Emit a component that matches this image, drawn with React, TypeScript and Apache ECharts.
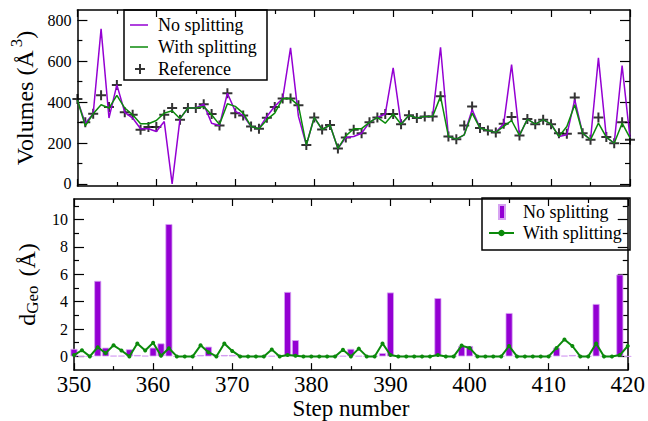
import React, { useEffect, useRef } from "react";
import * as echarts from "echarts";

const FONT = "Liberation Serif";

const steps = [
  350, 351, 352, 353, 354, 355, 356, 357, 358, 359,
  360, 361, 362, 363, 364, 365, 366, 367, 368, 369,
  370, 371, 372, 373, 374, 375, 376, 377, 378, 379,
  380, 381, 382, 383, 384, 385, 386, 387, 388, 389,
  390, 391, 392, 393, 394, 395, 396, 397, 398, 399,
  400, 401, 402, 403, 404, 405, 406, 407, 408, 409,
  410, 411, 412, 413, 414, 415, 416, 417, 418, 419,
  420,
];

// Volumes (Å^3)
const volNoSplit = [
  410, 297, 343, 758, 322, 484, 350, 322, 270, 270,
  256, 305, 0, 319, 371, 371, 390, 297, 286, 443,
  355, 335, 281, 270, 330, 380, 417, 665, 330, 190,
  325, 266, 288, 173, 227, 232, 248, 301, 325, 342,
  567, 292, 336, 322, 330, 330, 668, 232, 219, 240,
  363, 273, 261, 252, 294, 583, 237, 317, 292, 314,
  292, 232, 240, 412, 248, 216, 616, 229, 199, 578,
  225,
];
const volWithSplit = [
  410, 284, 343, 387, 371, 433, 371, 338, 294, 294,
  310, 346, 358, 319, 371, 371, 379, 338, 290, 392,
  379, 346, 281, 270, 314, 346, 417, 417, 384, 190,
  325, 266, 288, 173, 235, 270, 270, 301, 325, 297,
  342, 292, 336, 322, 330, 330, 428, 232, 219, 240,
  346, 273, 261, 252, 281, 310, 237, 317, 292, 314,
  292, 232, 281, 387, 248, 216, 297, 229, 199, 297,
  225,
];
const volReference = [
  415, 301, 343, 433, 376, 484, 350, 338, 265, 278,
  278, 338, 371, 314, 371, 371, 390, 342, 286, 443,
  346, 335, 281, 270, 324, 376, 417, 417, 384, 190,
  325, 266, 288, 173, 227, 265, 248, 301, 325, 342,
  342, 292, 336, 322, 330, 330, 428, 232, 219, 286,
  379, 273, 261, 252, 294, 327, 237, 317, 292, 314,
  292, 248, 245, 423, 248, 216, 325, 229, 199, 301,
  216,
];

// d_Geo (Å)
const dGeoNoSplit = [
  0.55, 0, 0, 5.52, 0.64, 0.05, 0.05, 0.52, 0.1, 0.05,
  0.64, 0.95, 9.67, 0, 0, 0, 0.1, 0.71, 0.05, 0.1,
  0.1, 0.03, 0.03, 0.03, 0.03, 0.03, 0.1, 4.71, 1.19, 0.03,
  0.03, 0.03, 0.03, 0.03, 0.03, 0.55, 0.03, 0.03, 0.03, 0.24,
  4.67, 0.03, 0.03, 0.03, 0.03, 0.03, 4.26, 0.03, 0.03, 0.76,
  0.76, 0.03, 0.03, 0.03, 0.03, 3.17, 0.03, 0.03, 0.03, 0.03,
  0.03, 0.64, 0.05, 0.1, 0.03, 0.03, 3.83, 0.03, 0.03, 5.98,
  0,
];
const dGeoWithSplit = [
  0.1, 0.45, 0, 0.67, 0.24, 0.81, 0.43, 0, 0.95, 0.43,
  1.0, 0.05, 0.6, 0, 0, 0, 0.81, 0.31, 0, 0.95,
  0.4, 0, 0, 0, 0, 0.5, 0, 0.1, 0.05, 0,
  0, 0, 0, 0, 0.48, 0, 0.57, 0, 0, 0.95,
  0.1, 0, 0, 0, 0, 0, 0.1, 0, 0, 0.79,
  0.62, 0, 0, 0, 0, 0.76, 0, 0, 0, 0,
  0, 0.62, 1.24, 0.76, 0, 0, 0.95, 0, 0, 0.1,
  0.76,
];

const volMajorTicks = [0, 200, 400, 600, 800];
const volMinorTicks = [100, 300, 500, 700];
const dGeoMajorTicks = [0, 2, 4, 6, 8, 10];
const dGeoMinorTicks = [1, 3, 5, 7, 9, 11];

const PURPLE = "#9400d3";
const GREEN = "#0b8a0b";
const PLUS = "path://M4,0H6V4H10V6H6V10H4V6H0V4H4Z";

const pairs = (vals: number[]) => vals.map((v, i) => [steps[i], v]);

const lineBlack = { color: "#000", width: 1.5 };
const tickBlack = { color: "#000", width: 1.2 };

function xAx(gridIndex: number, position: string, labels: boolean) {
  const ax: any = {
    type: "value",
    gridIndex,
    position,
    min: 350,
    max: 420,
    interval: 10,
    axisLine: { show: true, onZero: false, lineStyle: lineBlack },
    axisTick: { show: true, inside: true, length: 7, lineStyle: tickBlack },
    minorTick: { show: true, splitNumber: 2, length: 4, lineStyle: tickBlack },
    splitLine: { show: false },
    minorSplitLine: { show: false },
    axisLabel: { show: false },
  };
  if (labels) {
    ax.axisLabel = { show: true, fontSize: 23, margin: 3, color: "#000", fontFamily: FONT };
    ax.name = "Step number";
    ax.nameLocation = "middle";
    ax.nameGap = 26;
    ax.nameTextStyle = { fontSize: 23, color: "#000", fontFamily: FONT };
  }
  return ax;
}

function yAx(
  gridIndex: number,
  min: number,
  max: number,
  position: string,
  ticks: number[],
  len: number,
  showLine: boolean,
  labels: number[] | null,
  name?: string,
  nameGap?: number,
  rich?: any
) {
  const ax: any = {
    type: "value",
    gridIndex,
    position,
    min,
    max,
    axisLine: { show: showLine, onZero: false, lineStyle: lineBlack },
    axisTick: { show: true, inside: true, length: len, customValues: ticks, lineStyle: tickBlack },
    splitLine: { show: false },
    axisLabel: labels
      ? { show: true, customValues: labels, fontSize: 16, margin: 6, color: "#000", fontFamily: FONT }
      : { show: false },
  };
  if (name) {
    ax.name = name;
    ax.nameLocation = "middle";
    ax.nameGap = nameGap;
    ax.nameRotate = 90;
    ax.nameTextStyle = { fontSize: 24, color: "#000", fontFamily: FONT, rich };
  }
  return ax;
}

const legendText = (pad: number) => ({
  fontSize: 18,
  color: "#000",
  fontFamily: FONT,
  lineHeight: 20,
  rich: {
    t: { fontSize: 18, color: "#000", fontFamily: FONT, lineHeight: 20, padding: [0, 0, 0, pad] },
  },
});

const legendLabel = (label: string) => () => "{t|" + label + "}";

export default function App() {
  const ref = useRef<HTMLDivElement>(null);
  useEffect(() => {
    document.body.style.margin = "0";
    if (!ref.current) return;
    const chart = echarts.init(ref.current, null, { renderer: "svg" });
    const option: any = {
      animation: false,
      backgroundColor: "#fff",
      textStyle: { fontFamily: FONT, color: "#000" },
      grid: [
        { left: 74, right: 18, top: 10, height: 176 },
        { left: 74, right: 18, top: 199, height: 175 },
      ],
      xAxis: [xAx(0, "bottom", false), xAx(0, "top", false), xAx(1, "bottom", true), xAx(1, "top", false)],
      yAxis: [
        yAx(0, -10, 850, "left", volMajorTicks, 10, true, volMajorTicks, "Volumes (Å{sup|3})", 34, {
          sup: { fontSize: 17, fontFamily: FONT, color: "#000", padding: [0, 0, 16, 3] },
        }),
        yAx(0, -10, 850, "left", volMinorTicks, 5, false, null),
        yAx(0, -10, 850, "right", volMajorTicks, 10, true, null),
        yAx(0, -10, 850, "right", volMinorTicks, 5, false, null),
        yAx(1, -1, 11.5, "left", dGeoMajorTicks, 10, true, dGeoMajorTicks, "d{sub|Geo} (Å)", 30, {
          sub: { fontSize: 17, fontFamily: FONT, color: "#000", padding: [12, 3, 0, 0] },
        }),
        yAx(1, -1, 11.5, "left", dGeoMinorTicks, 5, false, null),
        yAx(1, -1, 11.5, "right", dGeoMajorTicks, 10, true, null),
        yAx(1, -1, 11.5, "right", dGeoMinorTicks, 5, false, null),
      ],
      legend: [
        {
          data: [{ name: "No splitting", icon: "rect" }], formatter: legendLabel("No splitting"),
          left: 130, top: 15, padding: 0, itemWidth: 18, itemHeight: 1.5, selectedMode: false, textStyle: legendText(5),
        },
        {
          data: [{ name: "With splitting", icon: "rect" }], formatter: legendLabel("With splitting"),
          left: 130, top: 37, padding: 0, itemWidth: 18, itemHeight: 1.5, selectedMode: false, textStyle: legendText(5),
        },
        {
          data: ["Reference"], formatter: legendLabel("Reference"),
          left: 135, top: 59, padding: 0, itemWidth: 10, itemHeight: 10, selectedMode: false, textStyle: legendText(8),
        },
        {
          data: [{ name: "No splitting (d)", icon: "rect" }], formatter: legendLabel("No splitting"),
          left: 498, top: 202, padding: 0, itemWidth: 6, itemHeight: 14, selectedMode: false, textStyle: legendText(13),
        },
        {
          data: ["With splitting (d)"], formatter: legendLabel("With splitting"),
          left: 488, top: 223, padding: 0, itemWidth: 25, itemHeight: 8, selectedMode: false, textStyle: legendText(4),
        },
      ],
      graphic: [
        { type: "rect", shape: { x: 124, y: 10, width: 143, height: 70 }, style: { fill: "none", stroke: "#000", lineWidth: 1.5 }, z: 100 },
        { type: "rect", shape: { x: 482, y: 198, width: 148, height: 52 }, style: { fill: "none", stroke: "#000", lineWidth: 1.5 }, z: 100 },
      ],
      series: [
        {
          name: "No splitting", type: "line", xAxisIndex: 0, yAxisIndex: 0, data: pairs(volNoSplit),
          symbol: "none", lineStyle: { color: PURPLE, width: 1.5 }, itemStyle: { color: PURPLE },
        },
        {
          name: "With splitting", type: "line", xAxisIndex: 0, yAxisIndex: 0, data: pairs(volWithSplit),
          symbol: "none", lineStyle: { color: GREEN, width: 1.5 }, itemStyle: { color: GREEN },
        },
        {
          name: "Reference", type: "scatter", xAxisIndex: 0, yAxisIndex: 0, data: pairs(volReference),
          symbol: PLUS, symbolSize: 10, itemStyle: { color: "#000" },
        },
        {
          name: "No splitting (d)", type: "bar", xAxisIndex: 2, yAxisIndex: 4, data: pairs(dGeoNoSplit),
          barWidth: 7, itemStyle: { color: PURPLE, borderColor: "#d7a3f2", borderWidth: 0.8 },
        },
        {
          name: "With splitting (d)", type: "line", xAxisIndex: 2, yAxisIndex: 4, data: pairs(dGeoWithSplit),
          symbol: "circle", symbolSize: 4, showAllSymbol: true,
          lineStyle: { color: GREEN, width: 2 }, itemStyle: { color: GREEN },
        },
      ],
    };
    chart.setOption(option);
    return () => chart.dispose();
  }, []);
  return <div ref={ref} style={{ width: 648, height: 421 }} />;
}
